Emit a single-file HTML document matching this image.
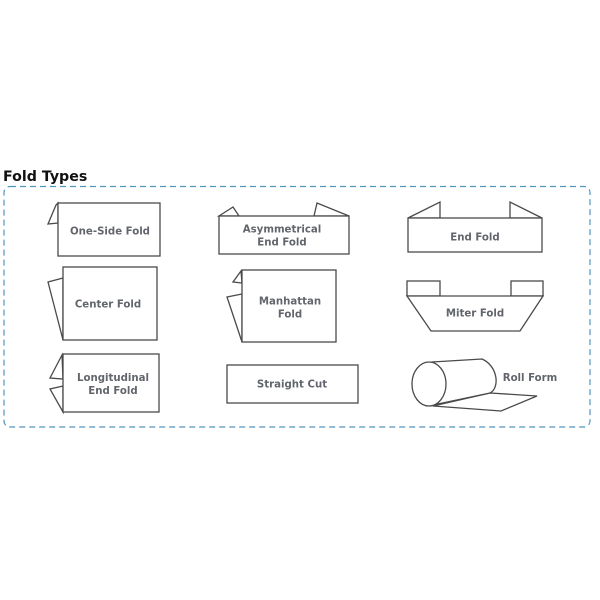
<!DOCTYPE html>
<html>
<head>
<meta charset="utf-8">
<style>
html,body{margin:0;padding:0;background:#fff;}
svg{display:block;}
.t{font-family:"DejaVu Sans","Liberation Sans",sans-serif;font-weight:bold;fill:#62666c;font-size:10.2px;text-anchor:middle;}
.s{fill:#fff;stroke:#4a4a4a;stroke-width:1.3;stroke-linejoin:miter;}
.l{fill:none;stroke:#4a4a4a;stroke-width:1.3;}
</style>
</head>
<body>
<svg width="600" height="600" viewBox="0 0 600 600" xmlns="http://www.w3.org/2000/svg">
<text x="3" y="181" font-family="DejaVu Sans, Liberation Sans, sans-serif" font-weight="bold" font-size="14.2" fill="#111">Fold Types</text>
<rect x="4" y="186.5" width="586" height="240.5" rx="6" ry="6" fill="none" stroke="#4f97bd" stroke-width="1.2" stroke-dasharray="6,4"/>

<!-- One-Side Fold -->
<polygon class="s" points="58,203 56,205 48,224 58,223"/>
<rect class="s" x="58" y="203" width="102" height="53"/>
<text class="t" x="110" y="234.5">One-Side Fold</text>

<!-- Center Fold -->
<polygon class="s" points="63,278 48,282 63,340"/>
<rect class="s" x="63" y="267" width="94" height="73"/>
<text class="t" x="108" y="307.5">Center Fold</text>

<!-- Longitudinal End Fold -->
<polygon class="s" points="62,355 50,378 63,379"/>
<polygon class="s" points="63,386 50,389 63,412"/>
<rect class="s" x="63" y="354" width="96" height="58"/>
<text class="t" x="113" y="381">Longitudinal</text>
<text class="t" x="113" y="394">End Fold</text>

<!-- Asymmetrical End Fold -->
<polygon class="s" points="219,216 233,207 239,216"/>
<polygon class="s" points="314,216 317,203 349,216"/>
<rect class="s" x="219" y="216" width="130" height="38"/>
<text class="t" x="282" y="232.5">Asymmetrical</text>
<text class="t" x="282" y="245.5">End Fold</text>

<!-- Manhattan Fold -->
<polygon class="s" points="241,271 233,282 242,283"/>
<polygon class="s" points="242,294 227,297 242,342"/>
<rect class="s" x="242" y="270" width="94" height="72"/>
<text class="t" x="290" y="304.5">Manhattan</text>
<text class="t" x="290" y="317.5">Fold</text>

<!-- Straight Cut -->
<rect class="s" x="227" y="365" width="131" height="38"/>
<text class="t" x="292" y="387.5">Straight Cut</text>

<!-- End Fold -->
<polygon class="s" points="408,218 440,202 440,218"/>
<polygon class="s" points="510,218 510,202 542,218"/>
<rect class="s" x="408" y="218" width="134" height="34"/>
<text class="t" x="475" y="240.5">End Fold</text>

<!-- Miter Fold -->
<rect class="s" x="407" y="281" width="33" height="15"/>
<rect class="s" x="511" y="281" width="32" height="15"/>
<polygon class="s" points="407,296 543,296 520,331 431,331"/>
<text class="t" x="475" y="316.5">Miter Fold</text>

<!-- Roll Form -->
<path class="s" d="M433,406 L501,411 L537,396 L490,393 Z"/>
<path class="s" d="M432,362 L482,359 C498,366 500,388 490,393 L433,405 Z"/>
<ellipse class="s" cx="429" cy="384" rx="17" ry="22"/>
<text class="t" x="530" y="381">Roll Form</text>
</svg>
</body>
</html>
